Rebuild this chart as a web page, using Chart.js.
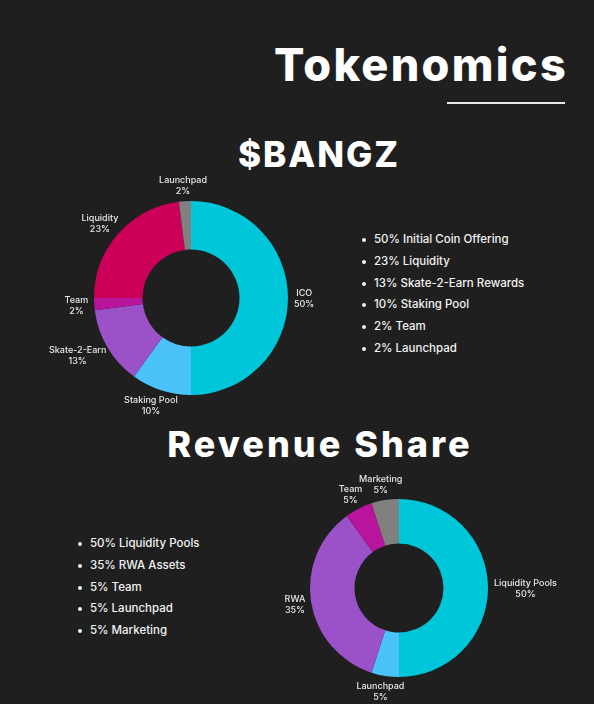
<!DOCTYPE html>
<html>
<head>
<meta charset="utf-8">
<script src="https://cdn.jsdelivr.net/npm/chart.js@4.4.1/dist/chart.umd.min.js"></script>
<style>
  html, body { margin: 0; padding: 0; }
  body {
    width: 594px; height: 704px; overflow: hidden; position: relative;
    background: #1f1f1f; color: #fff; font-family: Inter, "Open Sans", sans-serif;
  }
  .h { position: absolute; font-weight: 800; letter-spacing: 3px; white-space: nowrap; line-height: 1; margin: 0; }
  #title { right: 26px; top: 42px; font-size: 45px; letter-spacing: 2.3px; }
  #rule { position: absolute; left: 447px; top: 102px; width: 118px; height: 2px; background: #e6e6e6; }
  #sub1 { left: 0; width: 638px; text-align: center; top: 137px; font-size: 35px; letter-spacing: 2px; }
  #sub2 { left: 0; width: 640px; text-align: center; top: 426px; font-size: 36px; }
  .box { position: absolute; }
  ul.list { position: absolute; margin: 0; padding: 0; list-style: none; font-size: 11.5px; font-weight: 500; color: #f2f2f2; }
  ul.list li { height: 21.8px; line-height: 21.8px; position: relative; padding-left: 12px; white-space: nowrap; }
  ul.list li::before { content: ""; position: absolute; left: 0; top: 9px; width: 4px; height: 4px; border-radius: 50%; background: #f2f2f2; }
</style>
</head>
<body>
<div class="h" id="title">Tokenomics</div>
<div id="rule"></div>
<div class="h" id="sub1">$BANGZ</div>
<div class="h" id="sub2">Revenue Share</div>

<div class="box" style="left:31px;top:168px;width:320px;height:260px"><canvas id="tokenChart"></canvas></div>
<div class="box" style="left:239px;top:458px;width:320px;height:246px"><canvas id="revChart"></canvas></div>

<ul class="list" id="tokenList" style="left:362px;top:229px"></ul>
<ul class="list" id="revList" style="left:78px;top:533px"></ul>

<script>
// $BANGZ token split (clockwise from top)
const tokenLabels = ["ICO", "Staking Pool", "Skate-2-Earn", "Team", "Liquidity", "Launchpad"];
const tokenValues = [50, 10, 13, 2, 23, 2];
const tokenColors = ["#00c6da", "#4bc3fa", "#9b52c9", "#b8149c", "#cc0058", "#808080"];
const tokenBullets = ["50% Initial Coin Offering", "23% Liquidity", "13% Skate-2-Earn Rewards",
  "10% Staking Pool", "2% Team", "2% Launchpad"];

// revenue share split
const revLabels = ["Liquidity Pools", "Launchpad", "RWA", "Team", "Marketing"];
const revValues = [50, 5, 35, 5, 5];
const revColors = ["#00c6da", "#4bc3fa", "#9b52c9", "#b8149c", "#808080"];
const revBullets = ["50% Liquidity Pools", "35% RWA Assets", "5% Team", "5% Launchpad", "5% Marketing"];

const fillList = (id, items) => {
  const ul = document.getElementById(id);
  items.forEach((t) => {
    const li = document.createElement("li");
    li.textContent = t;
    ul.appendChild(li);
  });
};
fillList("tokenList", tokenBullets);
fillList("revList", revBullets);

// draws "name / pct%" outside each slice
const outerLabels = {
  id: "outerLabels",
  afterDatasetsDraw(chart) {
    const ctx = chart.ctx;
    const ds = chart.data.datasets[0];
    const total = ds.data.reduce((a, b) => a + b, 0);
    ctx.save();
    ctx.font = "500 9px Inter, sans-serif";
    ctx.fillStyle = "#e8e8e8";
    ctx.textAlign = "center";
    ctx.textBaseline = "middle";
    chart.getDatasetMeta(0).data.forEach((arc, i) => {
      const mid = (arc.startAngle + arc.endAngle) / 2;
      const dx = Math.cos(mid), dy = Math.sin(mid);
      const name = chart.data.labels[i];
      const pct = Math.round(ds.data[i] / total * 100) + "%";
      const halfW = Math.max(ctx.measureText(name).width, ctx.measureText(pct).width) / 2;
      const r = arc.outerRadius + 6;
      const x = arc.x + dx * (r + halfW);
      const y = arc.y + dy * (r + 10);
      ctx.fillText(name, x, y - 5);
      ctx.fillText(pct, x, y + 6);
    });
    ctx.restore();
  },
};

const makeDonut = (id, labels, values, colors, padding) => new Chart(document.getElementById(id), {
  type: "doughnut",
  data: {
    labels: labels,
    datasets: [{ data: values, backgroundColor: colors, borderWidth: 0 }],
  },
  options: {
    responsive: true,
    maintainAspectRatio: false,
    animation: false,
    cutout: "50%",
    layout: { padding: padding },
    plugins: { legend: { display: false }, tooltip: { enabled: false } },
  },
  plugins: [outerLabels],
});

makeDonut("tokenChart", tokenLabels, tokenValues, tokenColors, { left: 63, right: 63, top: 33, bottom: 33 });
makeDonut("revChart", revLabels, revValues, revColors, { left: 71, right: 71, top: 41, bottom: 27 });
</script>
</body>
</html>
